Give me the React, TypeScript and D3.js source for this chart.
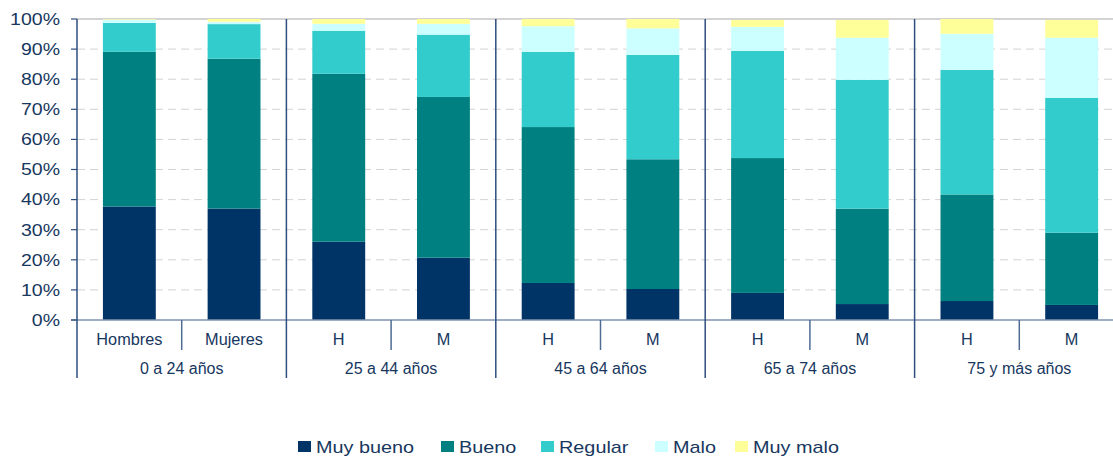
import React from "react";
import * as d3 from "d3";

const subLabels = ["Hombres", "Mujeres", "H", "M", "H", "M", "H", "M", "H", "M"];
const groupLabels = ["0 a 24 años", "25 a 44 años", "45 a 64 años", "65 a 74 años", "75 y más años"];
const seriesNames = ["Muy bueno", "Bueno", "Regular", "Malo", "Muy malo"];
const muyBueno = [37.7, 37.0, 26.0, 20.7, 12.3, 10.3, 9.0, 5.3, 6.3, 5.0];
const bueno = [51.4, 49.8, 55.8, 53.4, 51.8, 43.1, 44.8, 31.7, 35.4, 24.0];
const regular = [9.6, 11.5, 14.3, 20.7, 25.0, 34.7, 35.6, 42.8, 41.4, 44.8];
const malo = [1.1, 0.8, 2.3, 3.6, 8.5, 8.8, 8.0, 14.0, 12.0, 20.0];
const muyMalo = [0.2, 0.9, 1.6, 1.6, 2.4, 3.1, 2.3, 5.9, 4.9, 5.9];
const yTicks = [0, 10, 20, 30, 40, 50, 60, 70, 80, 90, 100];

const colors = ["#003366", "#008080", "#33CCCC", "#CCFFFF", "#FFFF99"];
const textColor = "#17375E";
const font = "'Liberation Sans', Arial, sans-serif";

export default function App() {
  const W = 1113, H = 456;
  const left = 77, right = 1124, top = 19, bottom = 320;
  const rows = subLabels.map((_, i) => ({
    i,
    "Muy bueno": muyBueno[i],
    Bueno: bueno[i],
    Regular: regular[i],
    Malo: malo[i],
    "Muy malo": muyMalo[i],
  }));
  const stacked = d3.stack<any>().keys(seriesNames)(rows);
  const x = d3.scaleBand<number>().domain(d3.range(subLabels.length)).range([left, right]).padding(0);
  const y = d3.scaleLinear().domain([0, 100]).range([bottom, top]);
  const bw = x.bandwidth();
  const barW = bw * 0.505;
  const groupW = bw * 2;
  const legendX = [298, 441, 541, 655, 735];

  return (
    <svg width={W} height={H} style={{ position: "absolute", left: 0, top: 0, background: "#fff" }} fontFamily={font}>
      {yTicks.map((t) =>
        t === 0 || t === 100 ? null : (
          <line key={t} x1={left} x2={W} y1={y(t)} y2={y(t)} stroke="#D3D3D3" strokeWidth={1} strokeDasharray="8,5" />
        )
      )}
      <line x1={left} x2={W} y1={y(100)} y2={y(100)} stroke="#C4C4C4" strokeWidth={1.5} />
      {stacked.map((s, si) => (
        <g key={si} fill={colors[si]}>
          {s.map((d, i) => (
            <rect key={i} x={(x(i) as number) + (bw - barW) / 2} width={barW} y={y(d[1])} height={y(d[0]) - y(d[1])} />
          ))}
        </g>
      ))}
      <line x1={71} x2={W} y1={bottom} y2={bottom} stroke="#7F93AE" strokeWidth={1.5} />
      <line x1={left} x2={left} y1={top} y2={378} stroke="#2E4E7E" strokeWidth={1.5} />
      {yTicks.map((t) => (
        <g key={t}>
          <line x1={71} x2={left} y1={y(t)} y2={y(t)} stroke="#2E4E7E" strokeWidth={1.2} />
          <text transform={`translate(60,${y(t) + 5.8}) scale(1.22,1)`} textAnchor="end" fontSize={16} fill={textColor}>
            {t}%
          </text>
        </g>
      ))}
      {groupLabels.map((g, gi) => {
        const gx = left + groupW * gi;
        return (
          <g key={gi}>
            {gi > 0 && <line x1={gx} x2={gx} y1={top} y2={378} stroke="#2E4E7E" strokeWidth={1.5} />}
            <text x={gx + groupW / 2} y={374} textAnchor="middle" fontSize={16} fill={textColor}>
              {g}
            </text>
            <line x1={gx + bw} x2={gx + bw} y1={bottom} y2={350} stroke="#4F6C94" strokeWidth={1.5} />
          </g>
        );
      })}
      {subLabels.map((s, i) => (
        <text key={i} x={(x(i) as number) + bw / 2} y={345} textAnchor="middle" fontSize={16.3} fill={textColor}>
          {s}
        </text>
      ))}
      {seriesNames.map((n, i) => (
        <g key={n}>
          <rect x={legendX[i]} y={441} width={13} height={11} fill={colors[i]} />
          <text transform={`translate(${legendX[i] + 18},452.5) scale(1.24,1)`} fontSize={16} fill={textColor}>
            {n}
          </text>
        </g>
      ))}
    </svg>
  );
}
